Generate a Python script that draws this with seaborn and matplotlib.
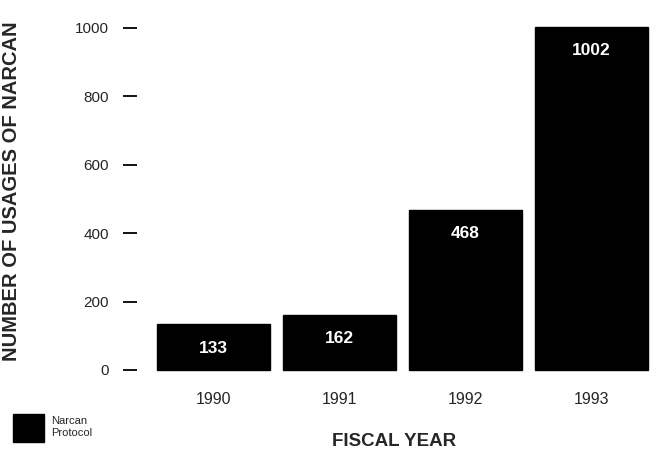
import matplotlib
matplotlib.use("Agg")
import matplotlib.pyplot as plt
import seaborn as sns
import pandas as pd
from matplotlib.patches import Patch

years = ["1990", "1991", "1992", "1993"]
usages = [133, 162, 468, 1002]
yticks = [0, 200, 400, 600, 800, 1000]

sns.set_theme(style="white")
plt.rcParams['font.family'] = ['Liberation Sans', 'DejaVu Sans']

df = pd.DataFrame({"year": years, "usages": usages})

fig = plt.figure(figsize=(6.57, 4.54), dpi=100)
ax = fig.add_axes([137/657, 1 - 385/454, 515/657, (385 - 20)/454])

sns.barplot(data=df, x="year", y="usages", color="black", width=0.9,
            saturation=1, ax=ax, edgecolor="black")

ax.set_xlim(-0.61, 3.48)
ax.set_ylim(-44, 1023)
ax.set_yticks(yticks)
ax.set_yticklabels([str(t) for t in yticks], fontsize=11)
ax.tick_params(axis="y", direction="out", length=10, width=1.3, pad=10, left=True, color="black")
ax.tick_params(axis="x", length=0, pad=5, labelsize=11.5)
for s in ax.spines.values():
    s.set_visible(False)

for i, v in enumerate(usages):
    ax.annotate(str(v), (i, v), xytext=(0, -17), textcoords="offset points",
                ha="center", va="center", color="white", fontsize=12.5, fontweight="bold")

ax.set_ylabel("NUMBER OF USAGES OF NARCAN", fontsize=14.5, fontweight="bold")
ax.yaxis.set_label_coords(-0.225, 0.53)
ax.set_xlabel("FISCAL YEAR", fontsize=13.5, fontweight="bold", labelpad=19)

fig.legend(handles=[Patch(facecolor="black", edgecolor="black")], labels=["Narcan\nProtocol"],
           loc="lower left", bbox_to_anchor=(0.005, 0.005), frameon=False, fontsize=8,
           handlelength=2.8, handleheight=3.4, handletextpad=0.6)

fig.savefig("out.png", dpi=100)
